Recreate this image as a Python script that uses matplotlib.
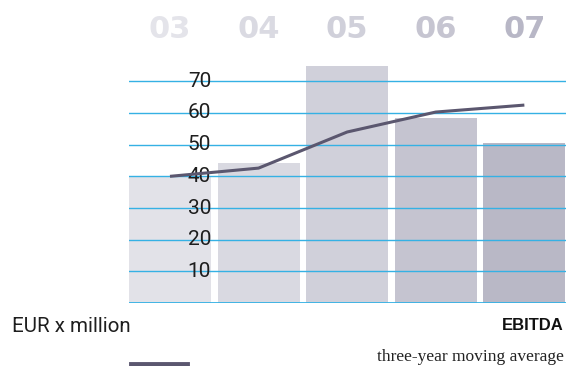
import matplotlib.pyplot as plt
import matplotlib.transforms as mtransforms

years = ["03", "04", "05", "06", "07"]
ebitda = [40, 44.2, 75, 58.4, 50.5]
moving_avg = [40, 42.6, 54, 60.3, 62.5]
y_ticks = [10, 20, 30, 40, 50, 60, 70]

bar_colors = ["#e2e2e8", "#d9d9e1", "#d0d0da", "#c5c4d0", "#b9b8c6"]
year_colors = ["#e4e4ea", "#dadae2", "#d0d0da", "#c6c5d1", "#b8b7c6"]
grid_color = "#35b1e4"
line_color = "#5b576f"

thin = dict(family="Roboto", fontweight="normal")

fig = plt.figure(figsize=(5.66, 3.66), dpi=100)
ax = fig.add_axes([129 / 566, 63 / 366, 437 / 566, 237.5 / 366])

x = list(range(len(years)))
ax.bar(x, ebitda, width=0.925, color=bar_colors, zorder=1)

for v in [0] + y_ticks:
    ax.axhline(v, color=grid_color, lw=1.3 if v == 0 else 1.0, zorder=2)

ax.plot(x, moving_avg, color=line_color, lw=2.2, zorder=4, solid_capstyle="butt")

ax.set_xlim(-0.4625, 4.47)
ax.set_ylim(0, 75)
ax.axis("off")

# tick labels drawn inside the plot
trans = mtransforms.blended_transform_factory(ax.transAxes, ax.transData)
for v in y_ticks:
    ax.text(0.188, v, str(v), transform=trans, ha="right", va="center",
            fontsize=15, color="#1e1e1e", zorder=3, **thin)

# year labels on top
trans_top = mtransforms.blended_transform_factory(ax.transData, fig.transFigure)
for i, (yr, c) in enumerate(zip(years, year_colors)):
    ax.text(i, 1 - 29 / 366, yr, transform=trans_top, ha="center", va="center",
            fontsize=22, fontweight="bold", color=c, family="DejaVu Sans")

fig.text(12 / 566, 1 - 326 / 366, "EUR x million", ha="left", va="center",
         fontsize=14.8, color="#1e1e1e", **thin)
fig.text(564 / 566, 1 - 326 / 366, "EBITDA", ha="right", va="center",
         fontsize=12, fontweight="bold", color="#111111", family="Liberation Sans")
fig.text(564 / 566, 1 - 357 / 366, "three-year moving average", ha="right", va="center",
         fontsize=12.5, color="#222222", family="Liberation Serif")

fig.add_artist(plt.Line2D([131 / 566, 187 / 566], [1 - 364 / 366, 1 - 364 / 366],
                          color=line_color, lw=3.5, transform=fig.transFigure))

fig.savefig("out.png", dpi=100)
